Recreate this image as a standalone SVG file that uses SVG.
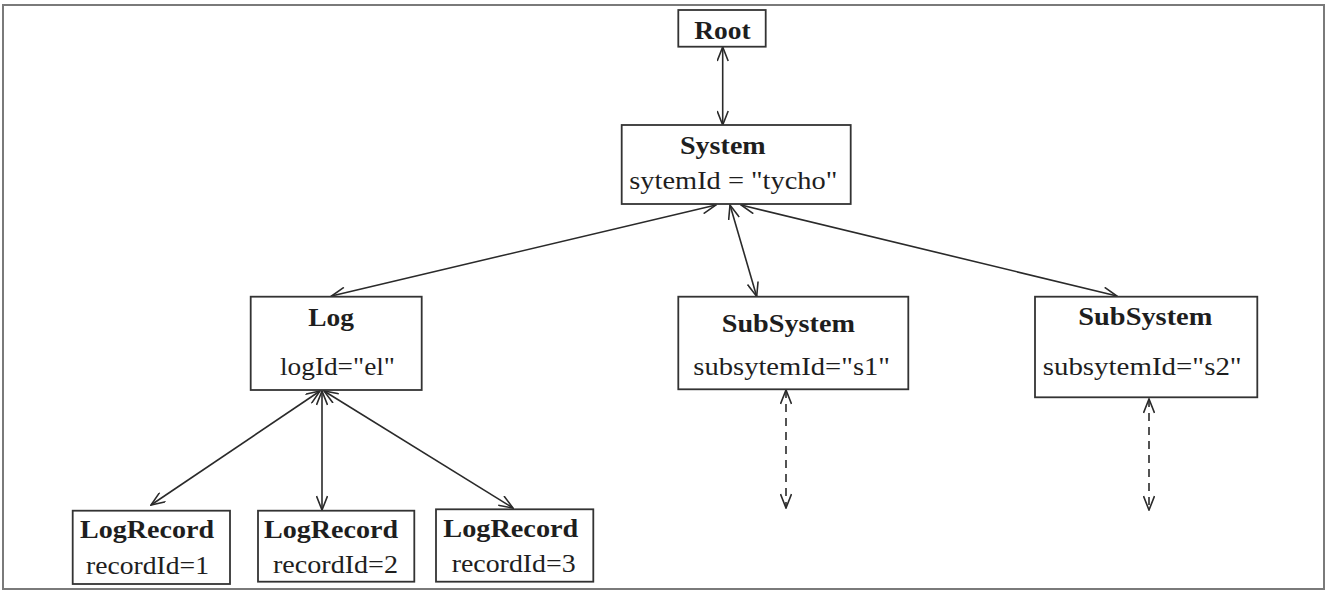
<svg xmlns="http://www.w3.org/2000/svg" width="1329" height="591" viewBox="0 0 1329 591">
  <style>
    .frame { fill: #ffffff; stroke: #7a7a7a; stroke-width: 2; }
    .box { fill: #ffffff; stroke: #333333; stroke-width: 1.8; }
    .b { font-family: "Liberation Serif", "Times New Roman", serif; font-weight: bold; font-size: 25px; fill: #1e1e1e; }
    .r { font-family: "Liberation Serif", "Times New Roman", serif; font-size: 25px; fill: #1e1e1e; }
    .conn { stroke: #2a2a2a; stroke-width: 1.6; fill: none; marker-start: url(#ah); marker-end: url(#ah); }
    .dash { stroke-dasharray: 8 6; }
  </style>
  <defs>
    <marker id="ah" viewBox="0 0 16 12" refX="15" refY="6" markerWidth="16" markerHeight="12" markerUnits="userSpaceOnUse" orient="auto-start-reverse">
      <path d="M1,0.5 L15,6 L1,11.5" fill="none" stroke="#2a2a2a" stroke-width="1.6"/>
    </marker>
  </defs>

  <rect class="frame" x="3" y="5" width="1321" height="584"/>

  <g id="connectors">
    <line class="conn" x1="722.7" y1="47" x2="722.7" y2="125"/>
    <line class="conn" x1="716" y1="205" x2="331.5" y2="296"/>
    <line class="conn" x1="730" y1="205" x2="756.7" y2="296.5"/>
    <line class="conn" x1="741" y1="205" x2="1117" y2="296"/>
    <line class="conn" x1="320" y1="391" x2="151" y2="505"/>
    <line class="conn" x1="322" y1="391" x2="322" y2="510"/>
    <line class="conn" x1="324" y1="391" x2="513" y2="508"/>
    <line class="conn dash" x1="786" y1="390" x2="786" y2="508"/>
    <line class="conn dash" x1="1149" y1="399" x2="1149" y2="510"/>
  </g>

  <g id="root">
    <rect class="box" x="678.3" y="10" width="87.4" height="36.7"/>
    <text class="b" x="694.3" y="39.3" textLength="56.4" lengthAdjust="spacingAndGlyphs">Root</text>
  </g>

  <g id="system">
    <rect class="box" x="621.7" y="125" width="229" height="79"/>
    <text class="b" x="680" y="154" textLength="85.7" lengthAdjust="spacingAndGlyphs">System</text>
    <text class="r" x="629.3" y="189.3" textLength="208" lengthAdjust="spacingAndGlyphs">sytemId = "tycho"</text>
  </g>

  <g id="log">
    <rect class="box" x="250.7" y="296.7" width="171" height="93.3"/>
    <text class="b" x="308.3" y="326" textLength="45.7" lengthAdjust="spacingAndGlyphs">Log</text>
    <text class="r" x="280" y="375" textLength="115" lengthAdjust="spacingAndGlyphs">logId="el"</text>
  </g>

  <g id="subsystem1">
    <rect class="box" x="678.3" y="296.7" width="230" height="92.6"/>
    <text class="b" x="721.7" y="331.7" textLength="133.3" lengthAdjust="spacingAndGlyphs">SubSystem</text>
    <text class="r" x="693.3" y="375" textLength="196.7" lengthAdjust="spacingAndGlyphs">subsytemId="s1"</text>
  </g>

  <g id="subsystem2">
    <rect class="box" x="1035" y="296.7" width="222.3" height="100.6"/>
    <text class="b" x="1078.3" y="325" textLength="134" lengthAdjust="spacingAndGlyphs">SubSystem</text>
    <text class="r" x="1042.7" y="375" textLength="199" lengthAdjust="spacingAndGlyphs">subsytemId="s2"</text>
  </g>

  <g id="logrecord1">
    <rect class="box" x="72.7" y="510.7" width="157.3" height="73.3"/>
    <text class="b" x="80" y="538" textLength="134" lengthAdjust="spacingAndGlyphs">LogRecord</text>
    <text class="r" x="86" y="573.5" textLength="123" lengthAdjust="spacingAndGlyphs">recordId=1</text>
  </g>

  <g id="logrecord2">
    <rect class="box" x="258" y="510.7" width="156.3" height="71"/>
    <text class="b" x="264" y="538" textLength="134" lengthAdjust="spacingAndGlyphs">LogRecord</text>
    <text class="r" x="273" y="573" textLength="125" lengthAdjust="spacingAndGlyphs">recordId=2</text>
  </g>

  <g id="logrecord3">
    <rect class="box" x="436" y="509.3" width="157.3" height="72.4"/>
    <text class="b" x="443.3" y="537" textLength="135" lengthAdjust="spacingAndGlyphs">LogRecord</text>
    <text class="r" x="451.7" y="572" textLength="124" lengthAdjust="spacingAndGlyphs">recordId=3</text>
  </g>
</svg>
